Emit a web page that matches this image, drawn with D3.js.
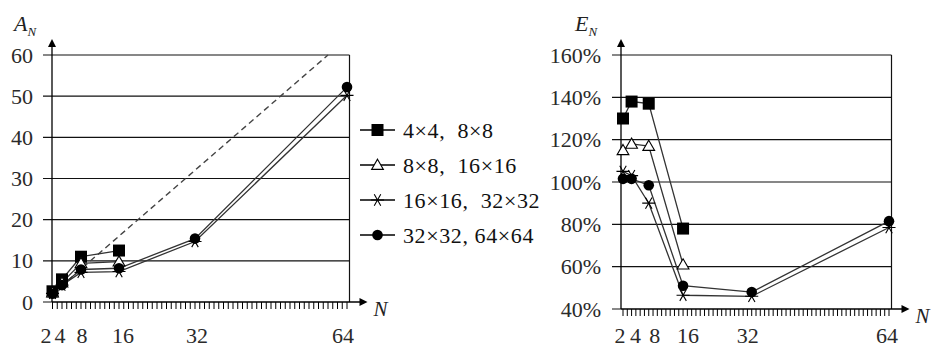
<!DOCTYPE html>
<html>
<head>
<meta charset="utf-8">
<script src="https://cdn.jsdelivr.net/npm/d3@7"></script>
<style>
  body { margin: 0; background: #fff; }
  svg { display: block; }
  .tick-label { font-family: "Liberation Serif", "DejaVu Serif", serif; font-size: 22px; fill: #2a2a2a; }
  .axis-title { font-family: "Liberation Serif", "DejaVu Serif", serif; font-style: italic; fill: #222; }
</style>
</head>
<body>
<div id="chart"></div>
<script>
// x values (number of processors)
const nValues = [2, 4, 8, 16, 32, 64];
const seriesNames = ["4\u00d74,  8\u00d78", "8\u00d78,  16\u00d716", "16\u00d716,  32\u00d732", "32\u00d732, 64\u00d764"];

// speedup A_N
const speedupSquare = [2.6, 5.5, 11.0, 12.5];
const speedupTriangle = [2.3, 4.7, 9.4, 9.8];
const speedupStar = [2.1, 4.1, 7.2, 7.4, 14.7, 50.2];
const speedupCircle = [2.0, 4.1, 7.9, 8.2, 15.4, 52.2];
const idealN = [2, 60];

// efficiency E_N (%)
const effSquare = [130, 138, 137, 78];
const effTriangle = [115, 118, 117, 61];
const effStar = [105, 103, 90, 46.5, 46, 78.5];
const effCircle = [101.5, 101.5, 98.5, 51, 48, 81.5];

const leftTicks = [0, 10, 20, 30, 40, 50, 60];
const rightTicks = [40, 60, 80, 100, 120, 140, 160];
const xTickLabels = [2, 4, 8, 16, 32, 64];

const W = 944, H = 357;
const svg = d3.select("#chart").append("svg").attr("width", W).attr("height", H);
svg.append("rect").attr("width", W).attr("height", H).attr("fill", "#fff");

const markerTypes = ["square", "triangle", "star", "circle"];

function drawMarker(g, type, x, y) {
    if (type === "square") {
        g.append("rect").attr("x", x - 6).attr("y", y - 6).attr("width", 12).attr("height", 12).attr("fill", "#000");
    } else if (type === "triangle") {
        g.append("path").attr("d", d3.symbol().type(d3.symbolTriangle).size(60)())
            .attr("transform", `translate(${x},${y + 1})`)
            .attr("fill", "#fff").attr("stroke", "#000").attr("stroke-width", 1.1);
    } else if (type === "star") {
        g.append("path").attr("d", d3.symbol().type(d3.symbolAsterisk).size(120)())
            .attr("transform", `translate(${x},${y}) rotate(90)`)
            .attr("fill", "none").attr("stroke", "#000").attr("stroke-width", 1.1);
    } else {
        g.append("circle").attr("cx", x).attr("cy", y).attr("r", 5.3).attr("fill", "#000");
    }
}

function drawPanel(cfg) {
    const g = svg.append("g");
    const x = d3.scaleLinear().domain([2, 64]).range(cfg.xRange);
    const y = d3.scaleLinear().domain(cfg.yDomain).range(cfg.yRange);
    const left = cfg.xRange[0] - cfg.axisGap;
    const right = cfg.xRange[1] + 2.5;
    const top = y(cfg.yDomain[1]);
    const bottom = y(cfg.yDomain[0]);

    // gridlines with outward ticks
    g.selectAll(".grid").data(cfg.yTicks.slice(1)).join("line")
        .attr("x1", left - 9).attr("x2", right)
        .attr("y1", d => y(d)).attr("y2", d => y(d))
        .attr("stroke", "#111").attr("stroke-width", 1.2);
    g.append("line").attr("x1", left - 9).attr("x2", left)
        .attr("y1", bottom).attr("y2", bottom).attr("stroke", "#111");

    // right border
    g.append("line").attr("x1", right).attr("x2", right).attr("y1", top).attr("y2", bottom)
        .attr("stroke", "#111").attr("stroke-width", 1.2);

    // y axis with arrow
    g.append("line").attr("x1", left).attr("x2", left).attr("y1", bottom).attr("y2", top - 10)
        .attr("stroke", "#000").attr("stroke-width", 1.3);
    g.append("path").attr("d", `M${left - 4},${top - 8}L${left + 4},${top - 8}L${left},${top - 16}Z`).attr("fill", "#000");

    // x axis with arrow
    g.append("line").attr("x1", left).attr("x2", right + 12).attr("y1", bottom).attr("y2", bottom)
        .attr("stroke", "#000").attr("stroke-width", 1.3);
    g.append("path").attr("d", `M${right + 10},${bottom - 4}L${right + 10},${bottom + 4}L${right + 18},${bottom}Z`).attr("fill", "#000");

    // minor ticks at each integer N
    g.selectAll(".minor").data(d3.range(2, 65)).join("line")
        .attr("x1", d => x(d)).attr("x2", d => x(d))
        .attr("y1", bottom).attr("y2", bottom + 7)
        .attr("stroke", "#000").attr("stroke-width", 1);

    // y tick labels
    g.selectAll(".ylab").data(cfg.yTicks).join("text")
        .attr("class", "tick-label")
        .attr("x", left - cfg.labelGap).attr("y", d => y(d) + 7.5)
        .attr("text-anchor", "end")
        .text(cfg.yFormat);

    // x tick labels
    g.selectAll(".xlab").data(xTickLabels).join("text")
        .attr("class", "tick-label")
        .attr("x", (d, i) => x(d) + cfg.xNudge[i]).attr("y", 343)
        .attr("text-anchor", "middle")
        .text(d => d);

    // axis titles
    const yt = g.append("text").attr("class", "axis-title").attr("x", cfg.yTitleX).attr("y", 31).attr("font-size", 22);
    yt.append("tspan").text(cfg.yTitle);
    yt.append("tspan").attr("dy", 5).attr("font-size", 13).text("N");
    g.append("text").attr("class", "axis-title").attr("x", right + 24).attr("y", bottom + 14)
        .attr("font-size", 21).text("N");

    // ideal line
    if (cfg.ideal) {
        g.append("path")
            .attr("d", d3.line().x(d => x(d)).y(d => y(d))(cfg.ideal))
            .attr("fill", "none").attr("stroke", "#444").attr("stroke-width", 1.4)
            .attr("stroke-dasharray", "6,4");
    }

    const line = d3.line().x((d, i) => x(nValues[i])).y(d => y(d));
    cfg.series.forEach(vals => {
        g.append("path").attr("d", line(vals))
            .attr("fill", "none").attr("stroke", "#333").attr("stroke-width", 1.3);
    });
    cfg.series.forEach((vals, s) => {
        vals.forEach((v, i) => drawMarker(g, markerTypes[s], x(nValues[i]), y(v)));
    });
}

drawPanel({
    xRange: [52.5, 347], yDomain: [0, 60], yRange: [302, 55], axisGap: 0.5, labelGap: 19,
    yTicks: leftTicks, yFormat: d => d, yTitle: "A", yTitleX: 14,
    xNudge: [-6.5, -2, 1, 4, 2, -4],
    ideal: idealN,
    series: [speedupSquare, speedupTriangle, speedupStar, speedupCircle]
});

drawPanel({
    xRange: [623, 889], yDomain: [40, 160], yRange: [309, 55], axisGap: 2, labelGap: 20,
    yTicks: rightTicks, yFormat: d => d + "%", yTitle: "E", yTitleX: 575,
    xNudge: [-3, 4, 6, 5, -4, -2],
    ideal: null,
    series: [effSquare, effTriangle, effStar, effCircle]
});

// legend
const legend = svg.append("g");
seriesNames.forEach((name, i) => {
    const ly = 130 + i * 35;
    legend.append("line").attr("x1", 360).attr("x2", 395).attr("y1", ly).attr("y2", ly)
        .attr("stroke", "#000").attr("stroke-width", 1.5);
    drawMarker(legend, markerTypes[i], 377.5, ly);
    legend.append("text").attr("class", "tick-label").attr("x", 403).attr("y", ly + 7.5)
        .style("fill", "#111").style("white-space", "pre").style("letter-spacing", "0.6px").text(name);
});
</script>
</body>
</html>
